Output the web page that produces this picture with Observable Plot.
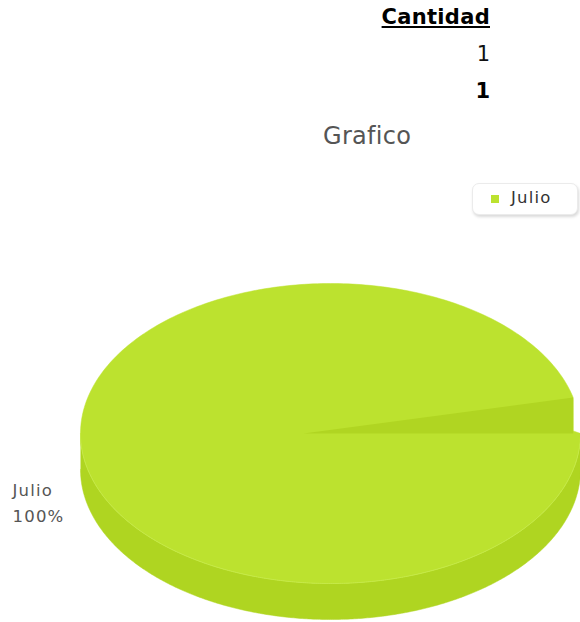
<!DOCTYPE html>
<html>
<head>
<meta charset="utf-8">
<script src="https://cdn.jsdelivr.net/npm/d3@7"></script>
<script src="https://cdn.jsdelivr.net/npm/@observablehq/plot@0.6"></script>
<style>
  html, body { margin: 0; padding: 0; background: #fff; }
  body { width: 580px; height: 622px; position: relative; overflow: hidden; font-family: "DejaVu Sans", sans-serif; }
  #chart { position: absolute; left: 0; top: 0; }
  #chart text { letter-spacing: 1.2px; }
  .tbl { position: absolute; right: 90px; top: 0; text-align: right; color: #000; font-size: 21px; }
  .tbl div { height: 37px; line-height: 34px; }
  .tbl .hd { font-weight: bold; text-decoration: underline; letter-spacing: 0.3px; }
  .tbl .tot { font-weight: bold; }
  .tbl .val { font-weight: normal; color: #111; }
  .title { position: absolute; left: 323px; top: 122px; font-size: 24px; color: #555; letter-spacing: 0.3px; }
  .legend { position: absolute; left: 472px; top: 183px; width: 104px; height: 30px; border: 1px solid #ebebeb; border-radius: 7px; box-shadow: 1px 2px 3px rgba(0,0,0,0.15); background: #fff; }
  .legend .sw { position: absolute; left: 18px; top: 11px; width: 8px; height: 8px; }
  .legend .lb { position: absolute; left: 38px; top: 4px; font-size: 16.5px; color: #333; letter-spacing: 1.2px; }
</style>
</head>
<body>
<div id="chart"></div>
<div class="tbl" id="tbl"></div>
<div class="title" id="title"></div>
<div class="legend" id="legend"></div>
<script>
// ---- data ----
const categories = ["Julio"];
const cantidades = [1];
const tableHeader = "Cantidad";
const chartTitle = "Grafico";
const sliceColors = ["#bce22f"];
const sideColors = ["#afd521"];

(function () {
// ---- table ----
const tbl = document.getElementById("tbl");
tbl.innerHTML = `<div class="hd">${tableHeader}</div>` +
  cantidades.map(v => `<div class="val">${v}</div>`).join("") +
  `<div class="tot">${d3.sum(cantidades)}</div>`;
document.getElementById("title").textContent = chartTitle;
document.getElementById("legend").innerHTML = categories.map((c, i) =>
  `<div class="sw" style="background:${sliceColors[i]}"></div><div class="lb">${c}</div>`).join("");

// ---- pie geometry ----
const W = 580, H = 622;
const cx = 330, cy = 433, rx = 250, ry = 150, depth = 36;
const t0 = 0.242;
const total = d3.sum(cantidades);
const arcs = d3.pie().sort(null)(cantidades);

const rimX = t => {
  let x = cx + rx * Math.cos(t);
  if (t > 0 && t < t0) x = Math.min(x, cx + rx * Math.cos(t0));
  return x;
};
const rimY = t => cy - ry * Math.sin(t);

const topFace = [], side = [], wall = [], edge = [];
arcs.forEach((a, i) => {
  const n = 360;
  topFace.push({x: cx, y: cy, id: i});
  for (let k = 0; k <= n; k++) {
    const t = a.startAngle + (a.endAngle - a.startAngle) * k / n;
    topFace.push({x: rimX(t), y: rimY(t), id: i});
  }
  topFace.push({x: cx, y: cy, id: i});
  const lo = Math.max(a.startAngle, Math.PI), hi = Math.min(a.endAngle, 2 * Math.PI);
  if (hi > lo) {
    for (let k = 0; k <= n; k++) {
      const t = lo + (hi - lo) * k / n;
      side.push({x: rimX(t), y: rimY(t), id: i});
      edge.push({x: rimX(t), y: rimY(t), id: i});
    }
    for (let k = n; k >= 0; k--) {
      const t = lo + (hi - lo) * k / n;
      side.push({x: rimX(t), y: rimY(t) + depth, id: i});
    }
  }
  const wx = cx + rx * Math.cos(a.startAngle + t0);
  wall.push({x: cx - 0.108 * rx, y: cy, id: i});
  wall.push({x: wx, y: cy - ry * Math.sin(a.startAngle + t0), id: i});
  wall.push({x: wx, y: cy, id: i});
  wall.push({x: cx - 0.108 * rx, y: cy, id: i});
});

const labels = categories.map((c, i) => ({
  x: 12, y: 500,
  text: c + "\n" + d3.format(".0%")(cantidades[i] / total)
}));

const chart = Plot.plot({
  width: W, height: H, margin: 0,
  x: {domain: [0, W], range: [0, W], axis: null},
  y: {domain: [0, H], range: [0, H], axis: null},
  style: {background: "transparent"},
  marks: [
    Plot.line(side, {x: "x", y: "y", z: "id", fill: sideColors[0], stroke: sideColors[0], strokeWidth: 0.5}),
    Plot.line(topFace, {x: "x", y: "y", z: "id", fill: sliceColors[0], stroke: sliceColors[0], strokeWidth: 0.5}),
    Plot.line(edge, {x: "x", y: "y", z: "id", stroke: "#c6ea48", strokeWidth: 1}),
    Plot.line(wall, {x: "x", y: "y", z: "id", fill: "#b0d522", stroke: "none"}),
    Plot.text(labels, {x: "x", y: "y", text: "text", textAnchor: "start", lineHeight: 1.6, fontSize: 16.5, fill: "#555", fontFamily: "DejaVu Sans"})
  ]
});
document.getElementById("chart").appendChild(chart);
})();
</script>
</body>
</html>
